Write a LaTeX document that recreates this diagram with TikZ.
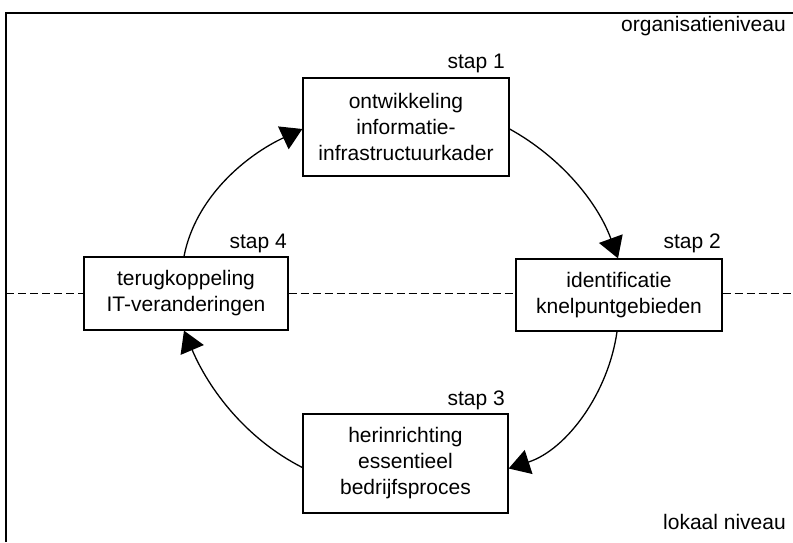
\documentclass[tikz,border=0pt]{standalone}
\usepackage{fontspec}
\setmainfont{Liberation Sans}
\usetikzlibrary{arrows.meta}
\begin{document}
\begin{tikzpicture}[x=1pt,y=1pt,
  stepbox/.style={draw,line width=1.3pt,rectangle,inner sep=0pt,align=center,
    font=\fontsize{21}{26}\selectfont},
  steplabel/.style={anchor=base east,inner sep=0pt,font=\fontsize{21}{24}\selectfont},
  flow/.style={line width=1.3pt,looseness=0.9,-{Triangle[length=21pt,width=25pt]}},
  level/.style={line width=1pt,dash pattern=on 8pt off 4pt}]
\useasboundingbox (0,0) rectangle (793,542);
% frame
\coordinate (fl) at (6,0);
\coordinate (ftl) at (6,529);
\coordinate (ftr) at (793,529);
\draw[line width=1.3pt] (fl) -- (ftl) -- (ftr);
% boxes
\node[stepbox,minimum width=206pt,minimum height=98pt] (b1) at (406,415) {ontwikkeling\\informatie-\\infrastructuurkader};
\node[stepbox,minimum width=206pt,minimum height=72pt] (b2) at (619,247) {identificatie\\knelpuntgebieden};
\node[stepbox,minimum width=205pt,minimum height=99pt] (b3) at (405.5,78.5) {herinrichting\\essentieel\\bedrijfsproces};
\node[stepbox,minimum width=204pt,minimum height=73pt] (b4) at (186,248.5) {terugkoppeling\\IT-veranderingen};
% labels
\node[steplabel] (s1) at (505,473) {stap 1};
\node[steplabel] (s2) at (721,294) {stap 2};
\node[steplabel] (s3) at (505,137) {stap 3};
\node[steplabel] (s4) at (287,294) {stap 4};
\node[steplabel] (org) at (786,510) {organisatieniveau};
\node[steplabel] (lok) at (786,13) {lokaal niveau};
% dashed level line
\coordinate (dl) at (6,249);
\coordinate (dr) at (793,249);
\draw[level] (dl) -- (b4.west |- dl);
\draw[level] (b4.east |- dl) -- (b2.west |- dl);
\draw[level] (b2.east |- dl) -- (dr);
% cycle arrows
\draw[flow] ([yshift=-2pt]b1.east) to[out=-29,in=110] ([xshift=-1pt]b2.north);
\draw[flow] ([xshift=-2pt]b2.south) to[out=-98,in=18] ([yshift=-5pt]b3.east);
\draw[flow] ([yshift=-4pt]b3.west) to[out=153,in=-67] ([xshift=-2pt]b4.south);
\draw[flow] ([xshift=-2pt]b4.north) to[out=79,in=-155] ([yshift=-2pt]b1.west);
\end{tikzpicture}
\end{document}
